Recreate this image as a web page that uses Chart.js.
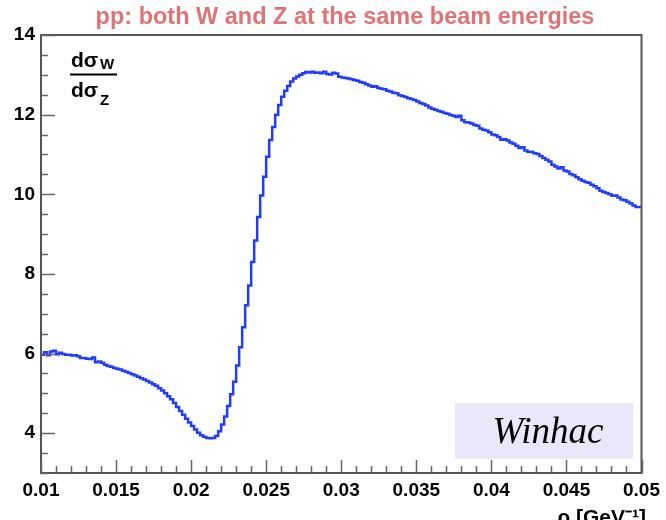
<!DOCTYPE html>
<html>
<head>
<meta charset="utf-8">
<script src="https://cdn.jsdelivr.net/npm/chart.js@4/dist/chart.umd.min.js"></script>
<style>
  html, body { margin: 0; padding: 0; background: #ffffff; }
  #wrap { width: 666px; height: 520px; position: relative; }
</style>
</head>
<body>
<div id="wrap"><canvas id="c" width="666" height="520"></canvas></div>
<script>
// ---- data ----
const titleText = 'pp: both W and Z at the same beam energies';
const xTitleText = 'ρ [GeV⁻¹]';
const labelText = 'Winhac';
const rhoStart = 0.01;      // first bin low edge
const binWidth = 0.0002;    // bin width in GeV^-1
const ratio = [
  6.00, 5.97, 6.03, 5.96, 6.05, 6.07, 5.98, 6.02, 5.99, 5.97,
  5.97, 5.95, 5.96, 5.93, 5.89, 5.89, 5.87, 5.86, 5.90, 5.78,
  5.80, 5.77, 5.72, 5.69, 5.67, 5.64, 5.62, 5.60, 5.57, 5.54,
  5.51, 5.48, 5.45, 5.42, 5.38, 5.35, 5.31, 5.27, 5.23, 5.19,
  5.13, 5.07, 5.00, 4.93, 4.85, 4.76, 4.66, 4.56, 4.46, 4.36,
  4.27, 4.18, 4.09, 4.01, 3.95, 3.91, 3.88, 3.87, 3.88, 3.93,
  4.05, 4.22, 4.42, 4.68, 4.98, 5.29, 5.70, 6.16, 6.66, 7.21,
  7.71, 8.30, 8.84, 9.43, 9.97, 10.44, 10.94, 11.36, 11.69, 12.00,
  12.24, 12.45, 12.60, 12.72, 12.83, 12.91, 12.96, 13.00, 13.04, 13.07,
  13.06, 13.08, 13.05, 13.06, 13.04, 13.08, 13.02, 13.01, 13.05, 13.03,
  12.95, 12.93, 12.92, 12.91, 12.89, 12.87, 12.85, 12.82, 12.80, 12.76,
  12.73, 12.70, 12.71, 12.67, 12.65, 12.64, 12.60, 12.58, 12.55, 12.54,
  12.49, 12.47, 12.44, 12.41, 12.39, 12.37, 12.33, 12.29, 12.27, 12.23,
  12.18, 12.15, 12.12, 12.09, 12.07, 12.04, 12.02, 11.99, 11.97, 11.94,
  11.97, 11.86, 11.81, 11.80, 11.78, 11.74, 11.72, 11.65, 11.62, 11.60,
  11.56, 11.50, 11.48, 11.44, 11.37, 11.38, 11.35, 11.30, 11.27, 11.22,
  11.16, 11.18, 11.10, 11.07, 11.06, 11.03, 11.01, 10.96, 10.91, 10.87,
  10.82, 10.74, 10.70, 10.65, 10.68, 10.60, 10.57, 10.51, 10.48, 10.43,
  10.38, 10.34, 10.31, 10.29, 10.24, 10.20, 10.15, 10.09, 10.06, 10.03,
  10.00, 9.96, 9.97, 9.92, 9.87, 9.85, 9.81, 9.77, 9.72, 9.68
];
const xTicks = [0.01, 0.015, 0.02, 0.025, 0.03, 0.035, 0.04, 0.045, 0.05];
const yTicks = [4, 6, 8, 10, 12, 14];
const xRange = [0.01, 0.05];
const yRange = [3, 14];
const xMinorStep = 0.001;
const yMinorStep = 0.5;

// ---- build histogram points (bin low edges, stepped) ----
const points = ratio.map((v, i) => ({ x: rhoStart + i * binWidth, y: v }));
points.push({ x: rhoStart + ratio.length * binWidth, y: ratio[ratio.length - 1] });

const FONT = '"Liberation Sans", Arial, Helvetica, sans-serif';

const decor = {
  id: 'decor',
  afterDraw(chart) {
    const { ctx, chartArea: a, scales } = chart;
    const xs = scales.x, ys = scales.y;
    ctx.save();
    // frame
    ctx.strokeStyle = '#555555';
    ctx.lineWidth = 2;
    ctx.strokeRect(a.left, a.top, a.right - a.left, a.bottom - a.top);
    // inner ticks
    ctx.lineWidth = 1.5;
    ctx.strokeStyle = '#666666';
    ctx.beginPath();
    const nx = Math.round((xRange[1] - xRange[0]) / xMinorStep);
    for (let k = 0; k <= nx; k++) {
      const v = xRange[0] + k * xMinorStep;
      const px = Math.round(xs.getPixelForValue(v)) + 0.5;
      const major = k % 5 === 0;
      const len = major ? 13 : 7;
      ctx.moveTo(px, a.bottom);
      ctx.lineTo(px, a.bottom - len);
    }
    const ny = Math.round((yRange[1] - yRange[0]) / yMinorStep);
    for (let k = 0; k <= ny; k++) {
      const v = yRange[0] + k * yMinorStep;
      const py = Math.round(ys.getPixelForValue(v)) + 0.5;
      const major = Math.abs(v % 2) < 1e-9;
      const len = major ? 14 : 7;
      ctx.moveTo(a.left, py);
      ctx.lineTo(a.left + len, py);
    }
    ctx.stroke();

    // title
    ctx.fillStyle = '#e07474';
    ctx.font = 'bold 23.5px ' + FONT;
    ctx.textAlign = 'center';
    ctx.textBaseline = 'alphabetic';
    ctx.fillText(titleText, 345, 24);

    // x axis title (right aligned, cut at the bottom)
    ctx.fillStyle = '#000000';
    ctx.font = 'bold 21px ' + FONT;
    ctx.textAlign = 'right';
    ctx.fillText(xTitleText, 646, 524);

    // y label: d sigma_W / d sigma_Z
    ctx.textAlign = 'left';
    ctx.font = 'bold 21px ' + FONT;
    ctx.fillText('dσ', 71, 67);
    ctx.fillText('dσ', 71, 97);
    ctx.font = 'bold 15px ' + FONT;
    ctx.fillText('W', 100, 69);
    ctx.fillText('Z', 100, 105);
    ctx.fillRect(70, 73.5, 47, 2);

    // Winhac box
    ctx.fillStyle = '#e8e8fa';
    ctx.fillRect(455, 403, 178, 56);
    ctx.fillStyle = '#000000';
    ctx.font = 'italic 37px "Liberation Serif", "DejaVu Serif", serif';
    ctx.textAlign = 'center';
    ctx.textBaseline = 'middle';
    ctx.fillText(labelText, 548, 433);
    ctx.restore();
  }
};

new Chart(document.getElementById('c'), {
  type: 'line',
  data: {
    datasets: [{
      data: points,
      stepped: 'after',
      borderColor: '#1f3cff',
      borderWidth: 2.5,
      pointRadius: 0,
      fill: false,
      tension: 0
    }]
  },
  options: {
    responsive: false,
    animation: false,
    devicePixelRatio: 1,
    layout: { padding: { left: 0, right: 22, top: 35, bottom: 0 } },
    plugins: { legend: { display: false }, tooltip: { enabled: false }, title: { display: false } },
    scales: {
      x: {
        type: 'linear',
        min: xRange[0], max: xRange[1],
        afterBuildTicks(s) { s.ticks = xTicks.map(v => ({ value: v })); },
        afterFit(s) { s.height = 47; },
        grid: { display: false, drawTicks: false },
        border: { display: false },
        ticks: {
          color: '#000000',
          padding: 6,
          maxRotation: 0,
          autoSkip: false,
          font: { family: FONT, size: 19, weight: 'bold' },
          callback: v => String(+v.toFixed(3))
        }
      },
      y: {
        type: 'linear',
        min: yRange[0], max: yRange[1],
        afterBuildTicks(s) { s.ticks = yTicks.map(v => ({ value: v })); },
        afterFit(s) { s.width = 41; },
        grid: { display: false, drawTicks: false },
        border: { display: false },
        ticks: {
          color: '#000000',
          padding: 6,
          font: { family: FONT, size: 19, weight: 'bold' },
          callback: v => String(v)
        }
      }
    }
  },
  plugins: [decor]
});
</script>
</body>
</html>
